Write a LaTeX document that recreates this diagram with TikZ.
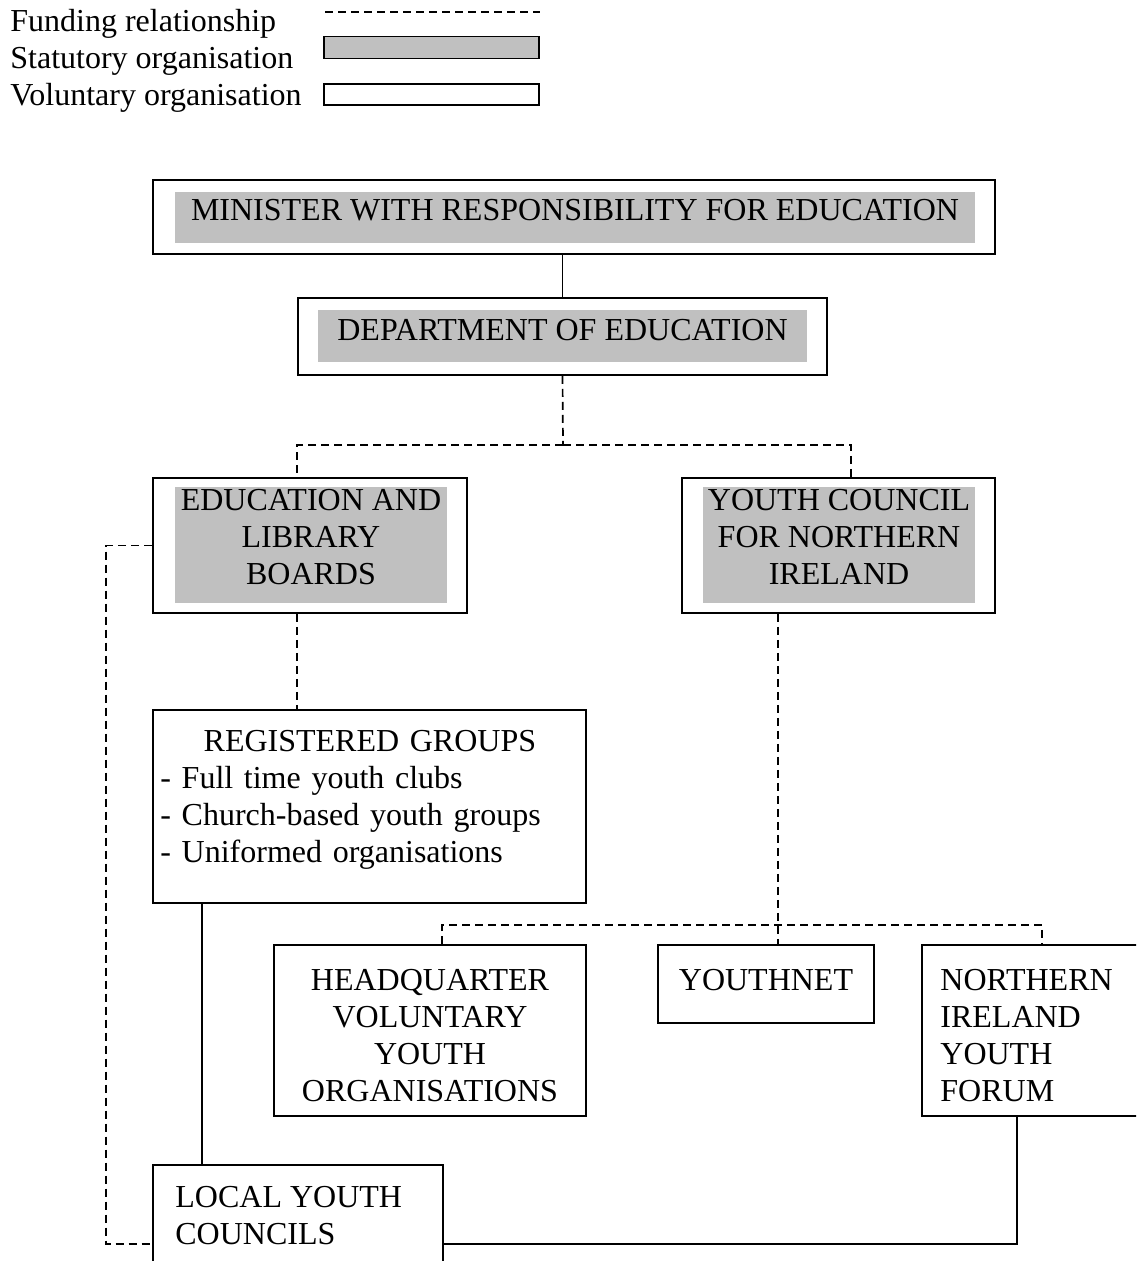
\documentclass[tikz,border=0pt]{standalone}
\usepackage{fontspec}
\setmainfont{Liberation Serif}
\definecolor{statgray}{RGB}{192,192,192}
\begin{document}
\begin{tikzpicture}[x=1pt, y=-1pt, thick]
    \tikzstyle{orgbox}=[draw, line width=1.8pt, fill=white, inner sep=0pt]
    \tikzstyle{statfill}=[fill=statgray, inner sep=0pt]
    \tikzstyle{lbl}=[inner sep=0pt, font=\fontsize{32}{37}\selectfont, align=center]
    \tikzstyle{fund}=[line width=1.7pt, dash pattern=on 8pt off 5pt]
    \tikzstyle{link}=[line width=1.7pt]

    \useasboundingbox (0,0) rectangle (1136,1261);
    \clip (0,0) rectangle (1136,1261);

    % key
    \node[lbl, anchor=base west] (keyfund) at (10,31) {Funding relationship};
    \node[lbl, anchor=base west] (keystat) at (10,68) {Statutory organisation};
    \node[lbl, anchor=base west] (keyvol) at (10,105) {Voluntary organisation};
    \coordinate (fundA) at (325,12);
    \coordinate (fundB) at (540,12);
    \draw[fund] (fundA) -- (fundB);
    \node[orgbox, fill=statgray, minimum width=215pt, minimum height=22pt] (statkey) at (431.5,47.5) {};
    \node[orgbox, minimum width=215pt, minimum height=21pt] (volkey) at (431.5,94.5) {};

    % statutory bodies
    \node[orgbox, minimum width=842pt, minimum height=74pt] (min) at (574,217) {};
    \node[statfill, minimum width=800pt, minimum height=51pt] (minG) at (575,217.5) {};
    \node[lbl] (minT) at (575,210) {MINISTER WITH RESPONSIBILITY FOR EDUCATION};

    \node[orgbox, minimum width=529pt, minimum height=77pt] (dep) at (562.5,336.5) {};
    \node[statfill, minimum width=489pt, minimum height=52pt] (depG) at (562.5,336) {};
    \node[lbl] (depT) at (562.5,330) {DEPARTMENT OF EDUCATION};

    \node[orgbox, minimum width=314pt, minimum height=135pt] (elb) at (310,545.5) {};
    \node[statfill, minimum width=272pt, minimum height=116pt] (elbG) at (311,545) {};
    \node[lbl] (elbT) at (311,537) {EDUCATION AND\\LIBRARY\\BOARDS};

    \node[orgbox, minimum width=313pt, minimum height=135pt] (ycni) at (838.5,545.5) {};
    \node[statfill, minimum width=272pt, minimum height=116pt] (ycniG) at (839,545) {};
    \node[lbl] (ycniT) at (839,537) {YOUTH COUNCIL\\FOR NORTHERN\\IRELAND};

    % voluntary bodies
    \node[orgbox, minimum width=433pt, minimum height=193pt] (reg) at (369.5,806.5) {};
    \node[lbl, anchor=north west, align=left, text width=419pt] (regT) at (160,729.5)
        {\makebox[419pt][c]{REGISTERED GROUPS}\\
         - Full time youth clubs\\
         - Church-based youth groups\\
         - Uniformed organisations};

    \node[orgbox, minimum width=312pt, minimum height=171pt] (hqvyo) at (430,1030.5) {};
    \node[lbl] (hqvyoT) at (430,1035.5) {HEADQUARTER\\VOLUNTARY\\YOUTH\\ORGANISATIONS};

    \node[orgbox, minimum width=216pt, minimum height=78pt] (yn) at (766,984) {};
    \node[lbl] (ynT) at (766,980) {YOUTHNET};

    \node[orgbox, minimum width=228pt, minimum height=171pt] (niyf) at (1036,1030.5) {};
    \node[lbl, anchor=west, align=left] (niyfT) at (940,1035.5) {NORTHERN\\IRELAND\\YOUTH\\FORUM};

    \node[orgbox, minimum width=290pt, minimum height=158pt] (lyc) at (298,1244) {};
    \node[lbl, anchor=west, align=left] (lycT) at (175,1215.5) {LOCAL YOUTH\\COUNCILS};

    % links
    \coordinate (split1) at (563,445);
    \coordinate (split2) at (778,925);
    \draw[link] (dep.north |- min.south) -- (dep.north);
    \draw[fund] (dep.south) -- (split1);
    \draw[fund] (split1) -| ([xshift=145pt]elb.north west);
    \draw[fund] (split1) -| ([xshift=170pt]ycni.north west);
    \draw[fund] (elb.west) -- ++(-46,0) |- (lyc.west);
    \draw[fund] ([xshift=145pt]elb.south west) -- ([xshift=145pt]reg.north west);
    \draw[link] ([xshift=50pt]reg.south west) -- ([xshift=50pt]lyc.north west);
    \draw[fund] (ycni.south -| split2) -- (split2 |- yn.north);
    \draw[fund] ([xshift=169pt]hqvyo.north west) |- (split2) -| ([xshift=121pt]niyf.north west);
    \draw[link] ([xshift=96pt]niyf.south west) |- (lyc.east);
\end{tikzpicture}
\end{document}
